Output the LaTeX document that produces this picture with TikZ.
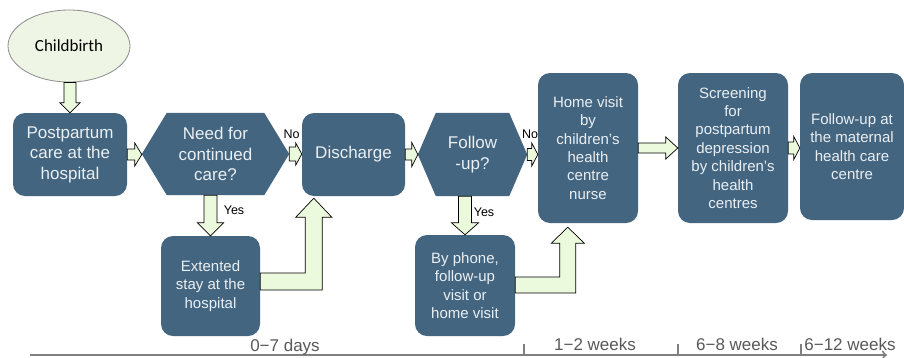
\documentclass[tikz,border=0pt]{standalone}
\usepackage{fontspec}
\setmainfont{Liberation Sans}
\newfontfamily\calfont{Carlito}
\usetikzlibrary{calc,shapes.geometric,arrows.meta,backgrounds}
\definecolor{boxc}{RGB}{67,101,128}
\definecolor{boxtxt}{RGB}{234,239,243}
\definecolor{arrfill}{RGB}{235,250,220}
\definecolor{ellfill}{RGB}{238,245,228}
\definecolor{ellline}{RGB}{140,140,140}
\definecolor{tlgray}{RGB}{128,128,128}
\definecolor{tltext}{RGB}{89,89,89}
\tikzset{
  box/.style={rounded corners=12pt, fill=boxc, text=boxtxt, align=center, inner sep=0pt},
  hexbox/.style={text=boxtxt, align=center, inner sep=0pt},
  bigtxt/.style={font=\fontsize{17}{20.5}\selectfont},
  smalltxt/.style={font=\fontsize{15}{18.4}\selectfont},
  blockarrow/.style={draw=black, fill=arrfill, line width=0.7pt, line join=miter},
  yn/.style={font=\fontsize{12.5}{14}\selectfont, text=black, inner sep=0pt},
  tl/.style={draw=tlgray, line width=1.6pt},
  tllabel/.style={font=\fontsize{17}{20}\selectfont, text=tltext, inner sep=0pt, anchor=base},
}
\newcommand\rarr[5]{\draw[blockarrow] let \p1=#1, \p2=#2 in
  (\x1,\y1+#3) -- (\x2-#5,\y1+#3) -- (\x2-#5,\y1+#4) -- (\x2,\y1) -- (\x2-#5,\y1-#4) -- (\x2-#5,\y1-#3) -- (\x1,\y1-#3) -- cycle;}
\newcommand\darr[5]{\draw[blockarrow] let \p1=#1, \p2=#2 in
  (\x2-#3,\y1) -- (\x2-#3,\y2+#5) -- (\x2-#4,\y2+#5) -- (\x2,\y2) -- (\x2+#4,\y2+#5) -- (\x2+#3,\y2+#5) -- (\x2+#3,\y1) -- cycle;}
\newcommand\larr[5]{\draw[blockarrow] let \p1=#1, \p2=#2 in
  (\x1,\y1+#3) -- (\x2-#3,\y1+#3) -- (\x2-#3,\y2-#5) -- (\x2-#4,\y2-#5) -- (\x2,\y2) -- (\x2+#4,\y2-#5) -- (\x2+#3,\y2-#5) -- (\x2+#3,\y1-#3) -- (\x1,\y1-#3) -- cycle;}
\begin{document}
\begin{tikzpicture}[x=1pt,y=-1pt]
\useasboundingbox (0,0) rectangle (904,357);

% nodes
\node[ellipse, draw=ellline, fill=ellfill, line width=0.8pt, minimum width=122pt, minimum height=72pt, inner sep=0pt, font=\calfont\fontsize{17}{20}\selectfont] (birth) at (69,46) {Childbirth};
\node[box, bigtxt, minimum width=114pt, minimum height=83pt] (post) at (70,154.5) {Postpartum\\care at the\\hospital};
\node[hexbox, bigtxt, minimum width=147pt, minimum height=82pt] (need) at (215.5,154) {Need for\\continued\\care?};
\node[box, bigtxt, minimum width=103pt, minimum height=83pt] (disc) at (353.5,154.5) {Discharge};
\node[hexbox, bigtxt, minimum width=109pt, minimum height=83pt] (follow) at (472.5,154.5) {Follow\\-up?};
\node[box, smalltxt, minimum width=100pt, minimum height=150pt] (home) at (588,148) {Home visit\\by\\children’s\\health\\centre\\nurse};
\node[box, smalltxt, minimum width=110pt, minimum height=150pt] (screen) at (733,148) {Screening\\for\\postpartum\\depression\\by children’s\\health\\centres};
\node[box, smalltxt, minimum width=104pt, minimum height=147pt] (mat) at (852,146.5) {Follow-up at\\the maternal\\health care\\centre};
\node[box, smalltxt, minimum width=99pt, minimum height=100pt] (ext) at (210.5,286) {Extented\\stay at the\\hospital};
\node[box, smalltxt, minimum width=100pt, minimum height=101pt] (phone) at (465,285.5) {By phone,\\follow-up\\visit or\\home visit};

\begin{scope}[on background layer]
\fill[white] (0,0) rectangle (904,357);
\fill[boxc] (need.west) -- ([xshift=25pt]need.north west) -- ([xshift=-25pt]need.north east) -- (need.east) -- ([xshift=-25pt]need.south east) -- ([xshift=25pt]need.south west) -- cycle;
\fill[boxc] (follow.west) -- ([xshift=18pt]follow.north west) -- ([xshift=-18pt]follow.north east) -- (follow.east) -- ([xshift=-18pt]follow.south east) -- ([xshift=18pt]follow.south west) -- cycle;
\end{scope}

% labels
\node[yn] (lno) at (291.5,134) {No};
\node[yn] (rno) at (530,134) {No};
\node[yn] (lyes) at (234,210.5) {Yes};
\node[yn] (ryes) at (484,212) {Yes};

% block arrows
\darr{(birth.south)}{(post.north)}{6pt}{10pt}{10pt}
\rarr{(post.east)}{(need.west)}{5.5pt}{11.5pt}{7pt}
\rarr{(need.east)}{(disc.west)}{7pt}{11pt}{6pt}
\rarr{(disc.east)}{(follow.west)}{5.5pt}{12pt}{6pt}
\rarr{(follow.east)}{(home.west)}{6pt}{11.5pt}{6pt}
\rarr{(home.east)}{(screen.west)}{5pt}{11pt}{12pt}
\rarr{(screen.east)}{(mat.west)}{6pt}{11.5pt}{6pt}
\darr{(need.south)}{(ext.north)}{6.5pt}{13pt}{13pt}
\darr{(follow.south)}{(phone.north)}{6.5pt}{13.5pt}{12pt}
\coordinate (extout) at ($(ext.east)+(0,-4.5)$);
\coordinate (disctip) at ($(disc.south west)+(12,2)$);
\larr{(extout)}{(disctip)}{8.5pt}{18pt}{19pt}
\coordinate (phout) at ($(phone.east)+(0,-0.5)$);
\coordinate (hometip) at ($(home.south west)+(30,4)$);
\larr{(phout)}{(hometip)}{8pt}{16.5pt}{16pt}

% timeline
\coordinate (tls) at (30,355);
\coordinate (tle) at (887,355);
\draw[tl, -{To[length=5pt,width=9pt]}] (tls) -- (tle);
\coordinate (tk1) at (524,344);
\coordinate (tk2) at (678,344);
\coordinate (tk3) at (801,344);
\draw[tl, line width=2.4pt] (tk1) -- (tk1 |- tls);
\draw[tl, line width=2.4pt] (tk2) -- (tk2 |- tls);
\draw[tl, line width=2.4pt] (tk3) -- (tk3 |- tls);
\node[tllabel] (d1) at (285,351.5) {0−7 days};
\node[tllabel] (d2) at (595,350) {1−2 weeks};
\node[tllabel] (d3) at (737,350) {6−8 weeks};
\node[tllabel] (d4) at (850,350) {6−12 weeks};
\end{tikzpicture}
\end{document}
